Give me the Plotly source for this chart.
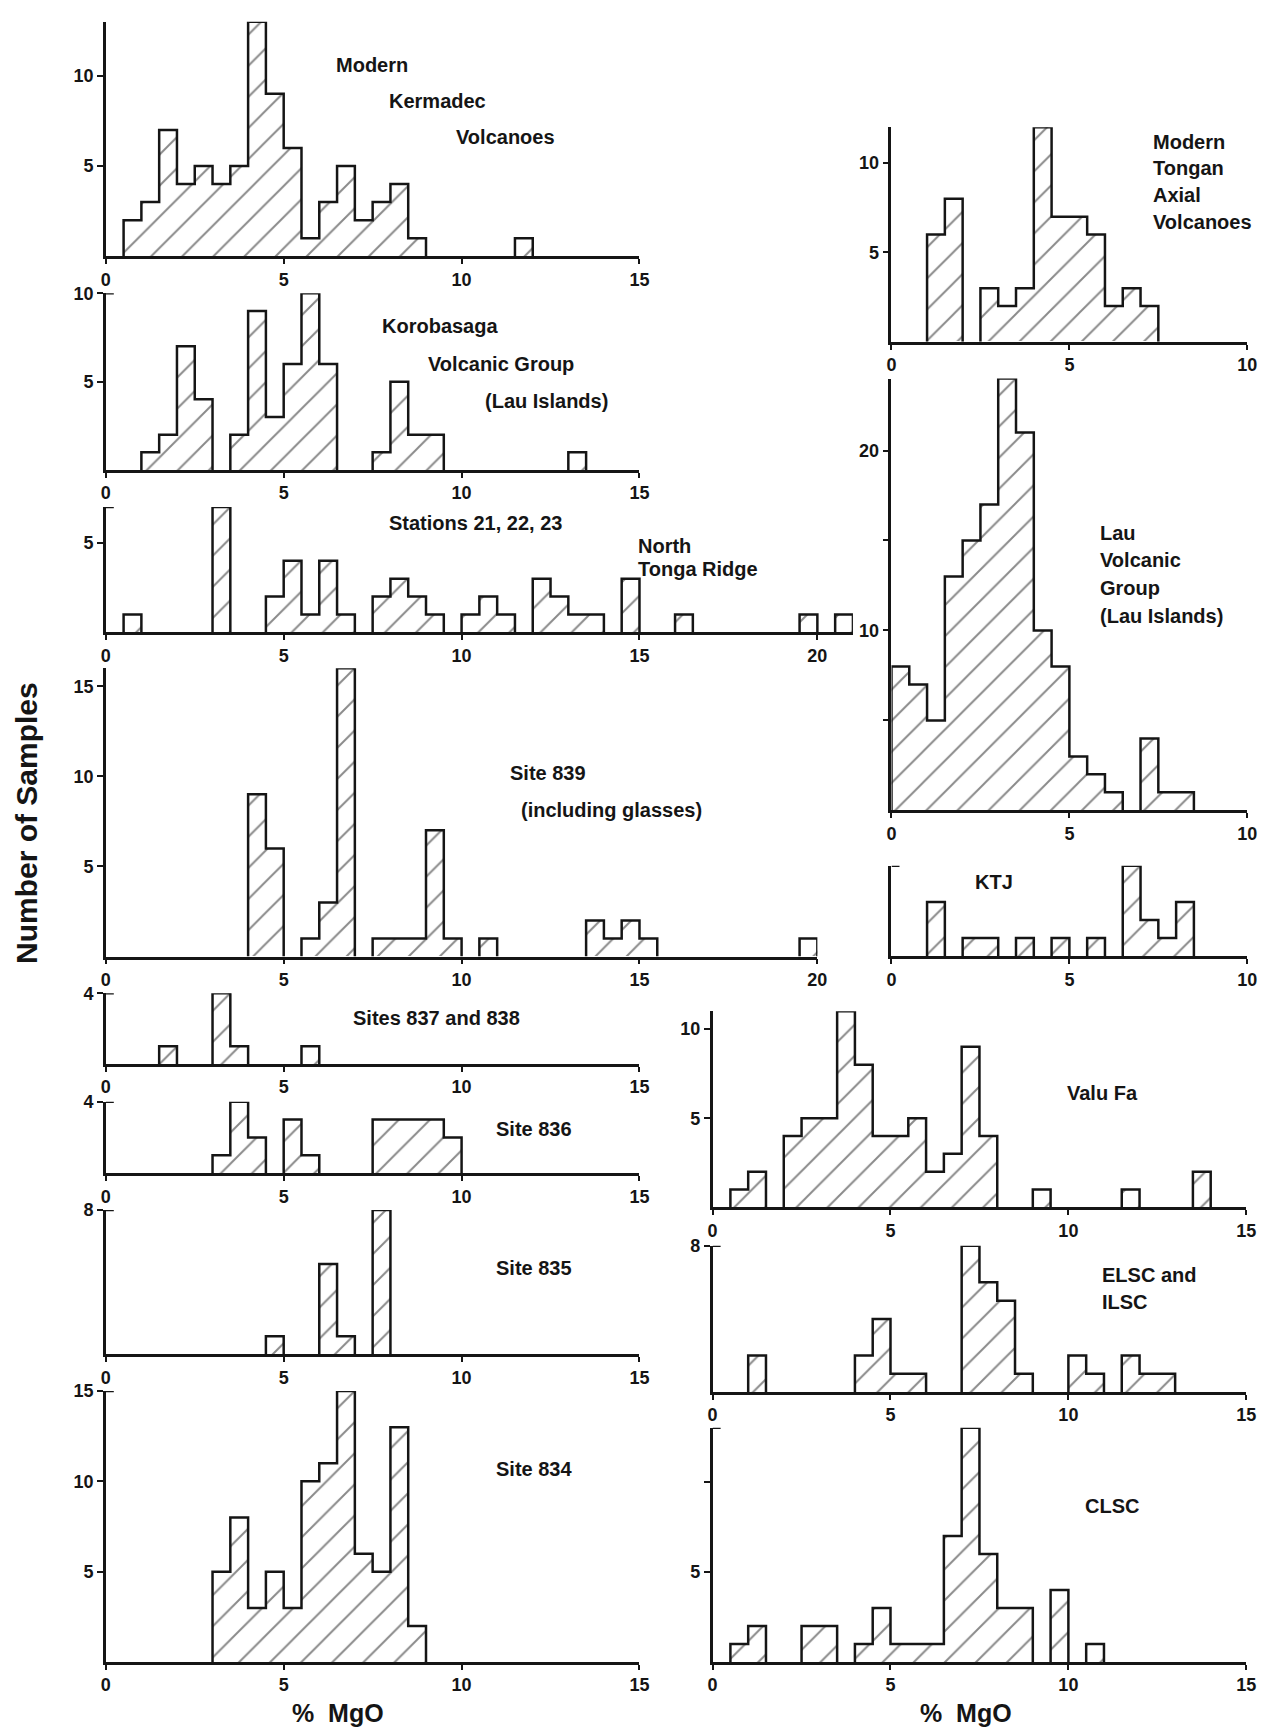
import plotly.graph_objects as go

BIN = 0.5  # bin width, % MgO

# ---------------- data: left edges of 0.5 % MgO bins and number of samples ----------------
kermadec_mgo = [0.5, 1.0, 1.5, 2.0, 2.5, 3.0, 3.5, 4.0, 4.5, 5.0, 5.5, 6.0, 6.5, 7.0, 7.5, 8.0, 8.5, 11.5]
kermadec_n = [2, 3, 7, 4, 5, 4, 5, 13, 9, 6, 1, 3, 5, 2, 3, 4, 1, 1]

korobasaga_mgo = [1.0, 1.5, 2.0, 2.5, 3.5, 4.0, 4.5, 5.0, 5.5, 6.0, 7.5, 8.0, 8.5, 9.0, 13.0]
korobasaga_n = [1, 2, 7, 4, 2, 9, 3, 6, 10, 6, 1, 5, 2, 2, 1]

stations_mgo = [0.5, 3.0, 4.5, 5.0, 5.5, 6.0, 6.5, 7.5, 8.0, 8.5, 9.0, 10.0, 10.5, 11.0,
                12.0, 12.5, 13.0, 13.5, 14.5, 16.0, 19.5, 20.5]
stations_n = [1, 7, 2, 4, 1, 4, 1, 2, 3, 2, 1, 1, 2, 1, 3, 2, 1, 1, 3, 1, 1, 1]

site839_mgo = [4.0, 4.5, 5.5, 6.0, 6.5, 7.5, 8.0, 8.5, 9.0, 9.5, 10.5, 13.5, 14.0, 14.5, 15.0, 19.5]
site839_n = [9, 6, 1, 3, 16, 1, 1, 1, 7, 1, 1, 2, 1, 2, 1, 1]

site837_838_mgo = [1.5, 3.0, 3.5, 5.5]
site837_838_n = [1, 4, 1, 1]

site836_mgo = [3.0, 3.5, 4.0, 5.0, 5.5, 7.5, 8.0, 8.5, 9.0, 9.5]
site836_n = [1, 4, 2, 3, 1, 3, 3, 3, 3, 2]

site835_mgo = [4.5, 6.0, 6.5, 7.5]
site835_n = [1, 5, 1, 8]

site834_mgo = [3.0, 3.5, 4.0, 4.5, 5.0, 5.5, 6.0, 6.5, 7.0, 7.5, 8.0, 8.5]
site834_n = [5, 8, 3, 5, 3, 10, 11, 15, 6, 5, 13, 2]

tongan_mgo = [1.0, 1.5, 2.5, 3.0, 3.5, 4.0, 4.5, 5.0, 5.5, 6.0, 6.5, 7.0]
tongan_n = [6, 8, 3, 2, 3, 12, 7, 7, 6, 2, 3, 2]

lau_mgo = [0.0, 0.5, 1.0, 1.5, 2.0, 2.5, 3.0, 3.5, 4.0, 4.5, 5.0, 5.5, 6.0, 7.0, 7.5, 8.0]
lau_n = [8, 7, 5, 13, 15, 17, 24, 21, 10, 8, 3, 2, 1, 4, 1, 1]

ktj_mgo = [1.0, 2.0, 2.5, 3.5, 4.5, 5.5, 6.5, 7.0, 7.5, 8.0]
ktj_n = [3, 1, 1, 1, 1, 1, 5, 2, 1, 3]

valufa_mgo = [0.5, 1.0, 2.0, 2.5, 3.0, 3.5, 4.0, 4.5, 5.0, 5.5, 6.0, 6.5, 7.0, 7.5, 9.0, 11.5, 13.5]
valufa_n = [1, 2, 4, 5, 5, 11, 8, 4, 4, 5, 2, 3, 9, 4, 1, 1, 2]

elsc_mgo = [1.0, 4.0, 4.5, 5.0, 5.5, 7.0, 7.5, 8.0, 8.5, 10.0, 10.5, 11.5, 12.0, 12.5]
elsc_n = [2, 2, 4, 1, 1, 8, 6, 5, 1, 2, 1, 2, 1, 1]

clsc_mgo = [0.5, 1.0, 2.5, 3.0, 4.0, 4.5, 5.0, 5.5, 6.0, 6.5, 7.0, 7.5, 8.0, 8.5, 9.5, 10.5]
clsc_n = [1, 2, 2, 2, 1, 3, 1, 1, 1, 7, 13, 6, 3, 3, 4, 1]

# ---------------- layout (pixel placement of each panel) ----------------
W, H = 1280, 1733
UX = 36.0  # px per % MgO

panels = [
    dict(edges=kermadec_mgo, counts=kermadec_n, xmax=15, ymax=13, yt=[5, 10], ytt=["5", "10"],
         bracket=False, x0=102, top=11.7, base=247.7,
         labels=[("Modern", 6.4, 10.6), ("Kermadec", 7.9, 8.6), ("Volcanoes", 9.8, 6.6)]),
    dict(edges=korobasaga_mgo, counts=korobasaga_n, xmax=15, ymax=10, yt=[5, 10], ytt=["5", "10"],
         bracket=True, x0=102, top=285, base=462.7,
         labels=[("Korobasaga", 7.7, 8.15), ("Volcanic Group", 9.0, 6.0), ("(Lau Islands)", 10.6, 3.93)]),
    dict(edges=stations_mgo, counts=stations_n, xmax=21, ymax=7, yt=[5], ytt=["5"],
         bracket=True, x0=102, top=500, base=626,
         labels=[("Stations 21, 22, 23", 7.9, 6.1), ("North", 14.9, 4.8), ("Tonga Ridge", 14.9, 3.55)]),
    dict(edges=site839_mgo, counts=site839_n, xmax=20, ymax=16, yt=[5, 10, 15], ytt=["5", "10", "15"],
         bracket=False, x0=102, top=662, base=952,
         labels=[("Site 839", 11.3, 10.2), ("(including glasses)", 11.6, 8.15)]),
    dict(edges=site837_838_mgo, counts=site837_838_n, xmax=15, ymax=4, yt=[4], ytt=["4"],
         bracket=True, x0=102, top=989, base=1060,
         labels=[("Sites 837 and 838", 6.9, 2.6)]),
    dict(edges=site836_mgo, counts=site836_n, xmax=15, ymax=4, yt=[4], ytt=["4"],
         bracket=True, x0=102, top=1098, base=1170,
         labels=[("Site 836", 10.9, 2.5)]),
    dict(edges=site835_mgo, counts=site835_n, xmax=15, ymax=8, yt=[8], ytt=["8"],
         bracket=True, x0=102, top=1207, base=1352,
         labels=[("Site 835", 10.9, 4.8)]),
    dict(edges=site834_mgo, counts=site834_n, xmax=15, ymax=15, yt=[5, 10, 15], ytt=["5", "10", "15"],
         bracket=True, x0=102, top=1389, base=1661.7,
         labels=[("Site 834", 10.9, 10.7)]),
    dict(edges=tongan_mgo, counts=tongan_n, xmax=10, ymax=12, yt=[5, 10], ytt=["5", "10"],
         bracket=False, x0=897, top=118, base=333.7,
         labels=[("Modern", 7.3, 11.2), ("Tongan", 7.3, 9.7), ("Axial", 7.3, 8.2), ("Volcanoes", 7.3, 6.7)]),
    dict(edges=lau_mgo, counts=lau_n, xmax=10, ymax=24, yt=[5, 10, 15, 20], ytt=["", "10", "", "20"],
         bracket=False, x0=897, top=370.7, base=805,
         labels=[("Lau", 5.8, 15.4), ("Volcanic", 5.8, 13.9), ("Group", 5.8, 12.35), ("(Lau Islands)", 5.8, 10.8)]),
    dict(edges=ktj_mgo, counts=ktj_n, xmax=10, ymax=5, yt=[], ytt=[],
         bracket=True, x0=897, top=860.7, base=951.7,
         labels=[("KTJ", 2.3, 4.1)]),
    dict(edges=valufa_mgo, counts=valufa_n, xmax=15, ymax=11, yt=[5, 10], ytt=["5", "10"],
         bracket=False, x0=716, top=1007, base=1204.3,
         labels=[("Valu Fa", 9.9, 6.4)]),
    dict(edges=elsc_mgo, counts=elsc_n, xmax=15, ymax=8, yt=[8], ytt=["8"],
         bracket=True, x0=716, top=1243, base=1390,
         labels=[("ELSC and", 10.9, 6.4), ("ILSC", 10.9, 4.9)]),
    dict(edges=clsc_mgo, counts=clsc_n, xmax=15, ymax=13, yt=[5, 10], ytt=["5", ""],
         bracket=True, x0=716, top=1426, base=1661.7,
         labels=[("CLSC", 10.4, 8.65)]),
]

INK = "#151515"
FONT = "Liberation Sans"
LW = 2.5


def outline(edges, counts, w=BIN):
    """Step outline of a histogram (no interior dividers), from bin edges and counts."""
    xs, ys = [], []
    prev_right = None
    for e, c in sorted(zip(edges, counts)):
        if prev_right is None or abs(e - prev_right) > 1e-9:
            if prev_right is not None:
                xs += [prev_right, None]
                ys += [0, None]
            xs.append(e)
            ys.append(0)
        xs += [e, e + w]
        ys += [c, c]
        prev_right = e + w
    xs.append(prev_right)
    ys.append(0)
    return xs, ys


fig = go.Figure()
annotations = []
shapes = []
layout_axes = {}

for i, p in enumerate(panels, start=1):
    xa = "x" if i == 1 else f"x{i}"
    ya = "y" if i == 1 else f"y{i}"
    xkey = "xaxis" if i == 1 else f"xaxis{i}"
    ykey = "yaxis" if i == 1 else f"yaxis{i}"

    fig.add_trace(go.Bar(
        x=p["edges"], y=p["counts"], width=BIN, offset=0,
        marker=dict(color="white", line=dict(width=0),
                    pattern=dict(shape="/", fgcolor=INK, bgcolor="white", size=22, solidity=0.09)),
        xaxis=xa, yaxis=ya, hoverinfo="skip"))
    ox, oy = outline(p["edges"], p["counts"])
    fig.add_trace(go.Scatter(x=ox, y=oy, mode="lines", line=dict(color=INK, width=LW),
                             xaxis=xa, yaxis=ya, cliponaxis=False, hoverinfo="skip"))

    x0 = p["x0"]
    x1 = x0 + p["xmax"] * UX
    xticks = list(range(0, p["xmax"] + 1, 5))
    layout_axes[xkey] = dict(
        domain=[x0 / W, x1 / W], range=[0, p["xmax"]], anchor=ya,
        showline=True, linecolor=INK, linewidth=LW, showgrid=False, zeroline=False,
        ticks="outside", ticklen=5, tickwidth=2, tickcolor=INK,
        tickvals=xticks, ticktext=[str(t) for t in xticks],
        tickfont=dict(family=FONT, size=18, color=INK, weight="bold"), fixedrange=True)
    layout_axes[ykey] = dict(
        domain=[1 - p["base"] / H, 1 - p["top"] / H], range=[0, p["ymax"]], anchor=xa,
        showline=True, linecolor=INK, linewidth=LW, showgrid=False, zeroline=False,
        ticks="outside", ticklen=6, tickwidth=2, tickcolor=INK,
        tickvals=p["yt"], ticktext=p["ytt"],
        tickfont=dict(family=FONT, size=18, color=INK, weight="bold"), fixedrange=True)

    if p["bracket"]:
        shapes.append(dict(type="line", xref=xa, yref=ya, xsizemode="pixel", xanchor=0,
                           x0=0, x1=8, y0=p["ymax"], y1=p["ymax"],
                           line=dict(color=INK, width=LW)))

    for text, tx, ty in p["labels"]:
        annotations.append(dict(text=text, x=tx, y=ty, xref=xa, yref=ya, showarrow=False,
                                xanchor="left", yanchor="middle",
                                font=dict(family=FONT, size=20, color=INK, weight="bold")))

annotations.append(dict(text="Number of Samples", x=22 / W, y=1 - 818 / H, xref="paper", yref="paper",
                        showarrow=False, textangle=-90, xanchor="center", yanchor="middle",
                        font=dict(family=FONT, size=30, color=INK, weight="bold")))
for cx in (337, 972):
    annotations.append(dict(text="%  MgO", x=cx / W, y=1 - 1713 / H, xref="paper", yref="paper",
                            showarrow=False, xanchor="center", yanchor="middle",
                            font=dict(family=FONT, size=25, color=INK, weight="bold")))

fig.update_layout(
    width=W, height=H, margin=dict(l=0, r=0, t=0, b=0),
    paper_bgcolor="white", plot_bgcolor="white", showlegend=False,
    bargap=0, annotations=annotations, shapes=shapes, **layout_axes)

fig.write_html("out.html")
